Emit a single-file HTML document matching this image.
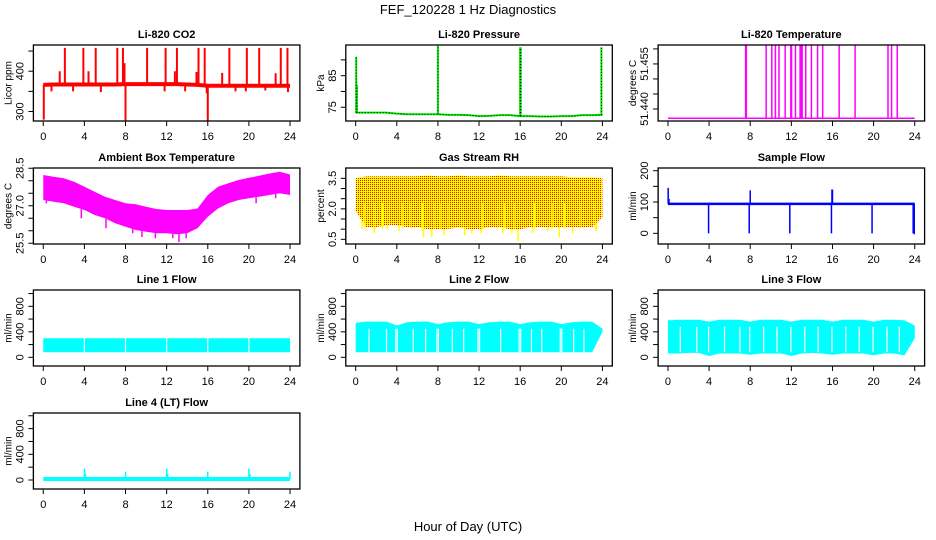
<!DOCTYPE html>
<html><head><meta charset="utf-8"><style>
html,body{margin:0;padding:0;background:#fff;}
svg{display:block;font-family:"Liberation Sans",Arial,sans-serif;}
</style></head><body>
<svg id="c" width="936" height="540" viewBox="0 0 936 540">
<defs>
<pattern id="rhpat" width="2" height="2" patternUnits="userSpaceOnUse">
<rect width="2" height="2" fill="#ffff00"/><rect width="1" height="1" fill="#ff0000"/>
</pattern>
</defs>
<text x="468" y="14" text-anchor="middle" font-size="13">FEF_120228  1 Hz Diagnostics</text>
<text x="468" y="531" text-anchor="middle" font-size="13">Hour of Day (UTC)</text>
</svg>
<script>
// ---------- data ----------
const hours = [0,1,2,3,4,5,6,7,8,9,10,11,12,13,14,15,16,17,18,19,20,21,22,23,24];
const xTicks = [0,4,8,12,16,20,24];

const co2Base = [366,367,367,367,367,367,367,367,368,368,368,368,368,368,367,366,364,364,364,364,364,364,364,364,364];
const co2SpikeHours = [2.1,3.9,5.1,7.2,7.75,10.1,11.9,13.0,15.1,15.7,18.1,19.8,21.0,23.1,23.75,1.6,4.4,7.9,12.8,14.9,17.4,22.6,0.05,8.0,16.0,0.8,2.9,5.6,11.8,13.8,15.9,18.7,19.7,21.6,23.8];
const co2SpikeVals  = [458,458,458,458,458,458,458,458,458,458,458,458,458,458,458,400,400,420,400,398,396,395,280,278,277,350,350,348,350,350,345,350,350,352,348];

const presBase = [73.3,73.3,73.3,73.3,73.0,72.8,72.8,72.8,72.8,72.6,72.6,72.5,72.2,72.3,72.5,72.5,72.2,72.2,72.1,72.1,72.2,72.2,72.5,72.5,72.6];
const presSpikeHours = [0.05,0.12,8.0,16.0,16.05,23.9];
const presSpikeVals  = [91,82,94.5,94,94,94];

const tempBase = 51.4369;
const tempSpikeHours = [7.55,7.62,9.55,10.1,10.45,10.8,11.4,11.95,12.02,12.4,12.85,12.95,13.05,13.4,13.95,14.55,15.05,16.65,18.2,21.4,21.75,22.3];
const tempSpikeVal = 51.4615;

const ambUpper = [28.23,28.16,28.10,27.96,27.76,27.56,27.36,27.23,27.10,27.06,26.96,26.87,26.83,26.83,26.83,26.89,27.43,27.76,27.90,28.03,28.12,28.20,28.29,28.36,28.25];
const ambLower = [27.23,27.16,27.10,26.96,26.83,26.63,26.50,26.30,26.16,26.03,25.96,25.90,25.90,25.86,25.90,26.10,26.56,26.89,27.10,27.23,27.30,27.36,27.43,27.50,27.43];
const ambDipHours = [0.3,3.7,6.1,8.7,9.6,10.9,12.6,13.2,13.9,20.7,22.6];
const ambDipVals  = [27.1,26.5,26.1,25.9,25.75,25.7,25.7,25.55,25.7,27.1,27.3];

const rhUpper = [3.5,3.6,3.6,3.6,3.6,3.6,3.6,3.65,3.6,3.6,3.65,3.6,3.6,3.6,3.65,3.6,3.6,3.6,3.6,3.6,3.6,3.55,3.55,3.55,3.5];
const rhLower = [1.9,1.1,1.1,1.2,1.2,1.1,1.1,1.0,1.0,1.0,1.1,1.0,1.0,1.1,1.1,1.0,1.0,1.1,1.1,1.1,1.1,1.1,1.1,1.1,1.6];
const rhDipHours = [0.6,1.8,4.2,6.6,7.4,8.6,10.6,11.3,12.2,14.3,15.2,15.8,17.2,18.7,19.8,21.1,23.4];
const rhDipVals  = [1.0,0.8,0.9,0.6,0.6,0.7,0.7,0.8,0.8,0.8,0.8,0.4,0.8,0.9,0.6,0.8,0.9];
const rhGapHours = [0.9,1.9,2.6,3.1,4.6,5.4,6.5,7.6,8.2,9.1,10.3,12.3,13.8,14.5,15.5,17.4,19.1,20.3,21.8,23.3];

const sfLow = 90, sfHigh = 98;
const sfSpikeHours = [0.02,0.1,8.0,15.95,16.0,3.95,7.9,11.85,15.9,19.85,23.85,23.95];
const sfSpikeVals  = [145,110,137,140,140,0,0,0,0,0,0,-3];

const l1Upper = [300,300,300,300,300,300,300,300,300,300,300,300,300,300,300,300,300,300,300,300,300,300,300,300,300];
const l1Lower = [80,80,80,80,80,80,80,80,80,80,80,80,80,80,80,80,80,80,80,80,80,80,80,80,80];
const l1GapHours = [4,8,12,16,20];

const l2Upper = [540,560,560,560,500,550,560,560,520,550,560,560,520,550,560,560,520,550,560,560,520,550,560,560,450];
const l2Lower = [80,80,80,80,80,80,80,80,80,80,80,80,80,80,80,80,80,80,80,80,80,80,80,80,400];
const l2GapHours = [1.3,3.0,3.9,4.05,5.6,6.8,7.9,8.05,9.4,10.5,11.9,12.05,14.1,15.9,16.05,17.1,18.1,19.9,20.05,21.2,22.2];

const l3Upper = [580,590,590,590,560,590,590,590,560,590,590,590,560,590,590,590,560,590,590,590,560,590,590,580,500];
const l3Lower = [60,60,70,70,20,60,60,60,40,60,60,60,20,60,70,60,40,60,60,60,30,60,60,30,300];
const l3GapHours = [1.2,2.8,3.95,5.5,7.0,7.95,9.3,10.6,11.95,13.3,14.6,15.95,17.3,18.6,19.95,21.3,22.5];

const l4Base = 15;
const l4SpikeHours = [4.0,4.1,8.0,12.0,12.1,16.0,20.0,20.1,24.0];
const l4SpikeVals  = [180,100,130,180,100,130,180,100,130];

// ---------- layout ----------
const svg = document.getElementById('c');
const NS = 'http://www.w3.org/2000/svg';
const colX = [33.4,345.8,658.1], rowY = [45,168,290,413], PW = 266.5, PH = 76;
function mk(tag, attrs, parent){const e=document.createElementNS(NS,tag);for(const k in attrs)e.setAttribute(k,attrs[k]);(parent||svg).appendChild(e);return e;}

function panel(col,row,title,ylab,dom,yTicks,yLabels,name){
  const L=colX[col], T=rowY[row];
  const g=mk('g',{});
  
  
  const xs=h=>L+PW*(h+0.96)/25.92;
  const ys=v=>T+PH-(v-dom[0])/(dom[1]-dom[0])*PH;
  const clipId='clip'+name;
  const cp=mk('clipPath',{id:clipId},g); mk('rect',{x:L,y:T,width:PW,height:PH},cp);
  const plot=mk('g',{'clip-path':'url(#'+clipId+')'},g);
  
  
  const box=mk('rect',{x:L,y:T,width:PW,height:PH,fill:'none',stroke:'#000','stroke-width':1.3},g);
  
  
  const tt=mk('text',{x:L+PW/2,y:T-7,'text-anchor':'middle','font-size':11,'font-weight':'bold'},g); tt.textContent=title;
  
  
  const xa=mk('g',{},g);
  
  
  mk('line',{x1:xs(xTicks[0]),x2:xs(xTicks[xTicks.length-1]),y1:T+PH,y2:T+PH,stroke:'#000'},xa);
  xTicks.forEach(t=>{mk('line',{x1:xs(t),x2:xs(t),y1:T+PH,y2:T+PH+5,stroke:'#000'},xa);
    const lt=mk('text',{x:xs(t),y:T+PH+19,'text-anchor':'middle','font-size':11},xa); lt.textContent=t;});
  const ya=mk('g',{},g);
  
  
  mk('line',{x1:L,x2:L,y1:ys(yTicks[0]),y2:ys(yTicks[yTicks.length-1]),stroke:'#000'},ya);
  yTicks.forEach((t,i)=>{mk('line',{x1:L-5,x2:L,y1:ys(t),y2:ys(t),stroke:'#000'},ya);
    if(yLabels[i]!==''){const yl=mk('text',{x:0,y:0,'text-anchor':'middle','font-size':11,transform:`translate(${L-10},${ys(t)}) rotate(-90)`},ya); yl.textContent=yLabels[i];}});
  const yt=mk('text',{x:0,y:0,'text-anchor':'middle','font-size':10,transform:`translate(${L-22},${T+PH/2}) rotate(-90)`},g); yt.textContent=ylab;
  
  
  return {xs,ys,plot};
}
function band(p,up,lo,fill){
  let d='M'+hours.map((h,i)=>p.xs(h)+','+p.ys(up[i])).join('L');
  d+='L'+hours.slice().reverse().map((h,j)=>p.xs(h)+','+p.ys(lo[hours.length-1-j])).join('L')+'Z';
  return mk('path',{d,fill,stroke:'none'},p.plot);
}
function line(p,vals,col,w,dash){
  const d='M'+hours.map((h,i)=>p.xs(h)+','+p.ys(vals[i])).join('L');
  return mk('path',{d,fill:'none',stroke:col,'stroke-width':w,'stroke-dasharray':dash||'none'},p.plot);
}
function interp(arr,h){const i=Math.min(23,Math.floor(h));const f=h-i;return arr[i]*(1-f)+arr[i+1]*f;}
function spikes(p,hs,vs,baseFn,col,w){hs.forEach((h,i)=>mk('line',{x1:p.xs(h),x2:p.xs(h),y1:p.ys(baseFn(h)),y2:p.ys(vs[i]),stroke:col,'stroke-width':w},p.plot));}
function gaps(p,hs,lo,hi,col){hs.forEach(h=>mk('line',{x1:p.xs(h),x2:p.xs(h),y1:p.ys(hi),y2:p.ys(lo),stroke:col||'#fff','stroke-width':1.2},p.plot));}

let p=panel(0,0,'Li-820 CO2','Licor ppm',[276.5,465],[300,350,400,450],['300','','400',''],'co2');
spikes(p,co2SpikeHours,co2SpikeVals,h=>interp(co2Base,h),'#ff0000',2);
line(p,co2Base,'#ff0000',4);

p=panel(1,0,'Li-820 Pressure','kPa',[70.66,94.7],[75,80,85,90],['75','','85',''],'pressure');
line(p,presBase,'#00ee00',2);
line(p,presBase,'#000',1,'1,2');
spikes(p,presSpikeHours,presSpikeVals,h=>interp(presBase,h),'#00ee00',2);
presSpikeHours.forEach((h,i)=>mk('line',{x1:p.xs(h),x2:p.xs(h),y1:p.ys(interp(presBase,h)),y2:p.ys(presSpikeVals[i]),stroke:'#000','stroke-width':1,'stroke-dasharray':'1,2'},p.plot));

p=panel(2,0,'Li-820 Temperature','degrees C',[51.436,51.4613],[51.440,51.445,51.450,51.455,51.460],['51.440','','','51.455',''],'li820-temp');
spikes(p,tempSpikeHours,tempSpikeHours.map(()=>tempSpikeVal),()=>tempBase,'#ff00ff',1.5);
mk('line',{x1:p.xs(0),x2:p.xs(24),y1:p.ys(tempBase),y2:p.ys(tempBase),stroke:'#ff00ff','stroke-width':1.5},p.plot);

p=panel(0,1,'Ambient Box Temperature','degrees C',[25.47,28.51],[25.5,26,26.5,27,27.5,28,28.5],['25.5','','','27.0','','','28.5'],'ambient');
band(p,ambUpper,ambLower,'#ff00ff');
spikes(p,ambDipHours,ambDipVals,h=>interp(ambLower,h),'#ff00ff',1.5);

p=panel(1,1,'Gas Stream RH','percent',[0.27,4.01],[0.5,1,1.5,2,2.5,3,3.5],['0.5','','','2.0','','','3.5'],'rh');
band(p,rhUpper,rhLower,'url(#rhpat)');
gaps(p,rhGapHours,1.0,2.3,'#ffff00');
spikes(p,rhDipHours,rhDipVals,h=>interp(rhLower,h),'#ffff00',1.5);

p=panel(2,1,'Sample Flow','ml/min',[-34,208.6],[0,50,100,150,200],['0','','100','','200'],'sample-flow');
band(p,hours.map(()=>sfHigh),hours.map(()=>sfLow),'#0000ff');
spikes(p,sfSpikeHours,sfSpikeVals,()=>94,'#0000ff',1.5);

p=panel(0,2,'Line 1 Flow','ml/min',[-136,1056],[0,200,400,600,800,1000],['0','','400','','800',''],'line1-flow');
band(p,l1Upper,l1Lower,'#00ffff'); gaps(p,l1GapHours,80,300);

p=panel(1,2,'Line 2 Flow','ml/min',[-136,1056],[0,200,400,600,800,1000],['0','','400','','800',''],'line2-flow');
band(p,l2Upper,l2Lower,'#00ffff'); gaps(p,l2GapHours,85,450);

p=panel(2,2,'Line 3 Flow','ml/min',[-136,1056],[0,200,400,600,800,1000],['0','','400','','800',''],'line3-flow');
band(p,l3Upper,l3Lower,'#00ffff'); gaps(p,l3GapHours,80,480);

p=panel(0,3,'Line 4 (LT) Flow','ml/min',[-140,1043],[0,200,400,600,800,1000],['0','','400','','800',''],'line4-flow');
mk('line',{x1:p.xs(0),x2:p.xs(24),y1:p.ys(l4Base),y2:p.ys(l4Base),stroke:'#00ffff','stroke-width':4},p.plot);
spikes(p,l4SpikeHours,l4SpikeVals,()=>l4Base,'#00ffff',1.5);
</script>
</body></html>
